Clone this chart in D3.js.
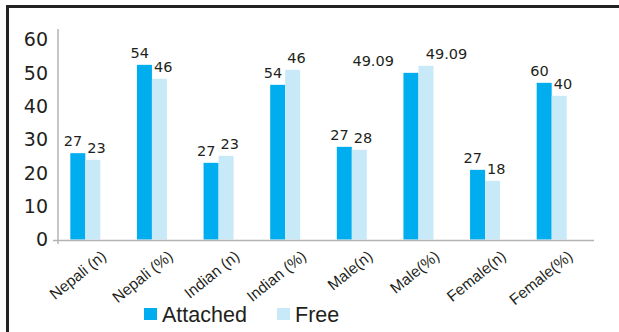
<html>
<head>
<style>
body { margin: 0; background: #fff; }
</style>
</head>
<body>
<svg id="chart"></svg>
<script src="https://cdnjs.cloudflare.com/ajax/libs/d3/7.8.5/d3.min.js"></script>
<script type="text/javascript">

var categories = ["Nepali (n)", "Nepali (%)", "Indian (n)", "Indian (%)", "Male(n)", "Male(%)", "Female(n)", "Female(%)"]
var series = ["Attached", "Free"]
var attached = [25.9, 52.4, 23.0, 46.4, 27.8, 50.0, 20.9, 47.0]
var free = [23.9, 48.2, 25.1, 50.9, 26.9, 52.1, 17.6, 43.1]
var attachedLabels = ["27", "54", "27", "54", "27", "49.09", "27", "60"]
var freeLabels = ["23", "46", "23", "46", "28", "49.09", "18", "40"]
var yTicks = [0, 10, 20, 30, 40, 50, 60]
var colors = ["#00aeef", "#c7e9f8"]

var W = 619, H = 332
var ink = "#231f20"
var numFont = "DejaVu Sans"
var wordFont = "Liberation Sans"

var svg = d3.select("#chart")
  .attr("width", W)
  .attr("height", H)

// frame (left + top only)
svg.append("line").attr("x1", 7.5).attr("x2", 7.5).attr("y1", 5).attr("y2", H)
  .attr("stroke", "#222").attr("stroke-width", 3)
svg.append("line").attr("x1", 6).attr("x2", W).attr("y1", 6.5).attr("y2", 6.5)
  .attr("stroke", "#222").attr("stroke-width", 3)

var y = d3.scaleLinear().domain([0, 60]).range([239.5, 39.5])
var x = d3.scaleBand().domain(categories).range([52, 585])
var xs = d3.scaleBand().domain(series).range([0, 30])

// axes
svg.append("line").attr("x1", 58).attr("x2", 58).attr("y1", 29).attr("y2", 244)
  .attr("stroke", "#b3b3b3").attr("stroke-width", 1.5)

svg.selectAll(".ytick")
  .data(yTicks)
  .enter().append("text")
  .attr("class", "ytick")
  .attr("x", 48)
  .attr("y", function(d) { return y(d); })
  .attr("dy", "0.36em")
  .attr("text-anchor", "end")
  .attr("font-family", numFont)
  .attr("font-size", 19)
  .attr("fill", ink)
  .text(function(d) { return d; })

var rows = categories.map(function(c, i) {
  return [
    { cat: c, s: series[0], v: attached[i], label: attachedLabels[i] },
    { cat: c, s: series[1], v: free[i], label: freeLabels[i] }
  ];
})

var barX = function(d) { return x(d.cat) + x.bandwidth() / 2 - 15 + xs(d.s); }

var groups = svg.selectAll(".grp")
  .data(rows)
  .enter().append("g")
  .attr("class", "grp")

groups.selectAll("rect")
  .data(function(d) { return d; })
  .enter().append("rect")
  .attr("x", barX)
  .attr("y", function(d) { return y(d.v); })
  .attr("width", xs.bandwidth())
  .attr("height", function(d) { return y(0) - y(d.v); })
  .attr("fill", function(d, i) { return colors[i]; })

svg.append("line").attr("x1", 53).attr("x2", 594).attr("y1", 240.5).attr("y2", 240.5)
  .attr("stroke", "#b3b3b3").attr("stroke-width", 1.5)

// value labels
groups.selectAll(".val")
  .data(function(d) { return d; })
  .enter().append("text")
  .attr("class", "val")
  .attr("y", function(d) { return y(d.v) - 7; })
  .attr("font-family", numFont)
  .attr("font-size", 14.5)
  .attr("fill", ink)
  .text(function(d) { return d.label; })
  .each(function(d, i) {
    var t = d3.select(this)
    var extra = Math.max(0, this.getComputedTextLength() - 20)
    if (i === 0) {
      t.attr("text-anchor", "end").attr("x", barX(d) + 12 - extra)
    } else {
      t.attr("text-anchor", "start").attr("x", barX(d) + 2 + extra * 0.25)
    }
  })

// category labels
svg.selectAll(".xlab")
  .data(categories)
  .enter().append("text")
  .attr("class", "xlab")
  .attr("text-anchor", "end")
  .attr("font-family", wordFont)
  .attr("font-size", 15.5)
  .attr("fill", ink)
  .attr("transform", function(d) {
    return "translate(" + (x(d) + x.bandwidth() / 2 + 22) + ",258) rotate(-39)";
  })
  .text(function(d) { return d; })

// legend
var legend = svg.selectAll(".leg")
  .data(series)
  .enter().append("g")
  .attr("class", "leg")
  .attr("transform", function(d, i) { return "translate(" + [144, 277][i] + ",308)"; })

legend.append("rect")
  .attr("width", 13)
  .attr("height", 12)
  .attr("fill", function(d, i) { return colors[i]; })

legend.append("text")
  .attr("x", 18)
  .attr("y", 14)
  .attr("font-family", wordFont)
  .attr("font-size", 21.5)
  .attr("fill", ink)
  .text(function(d) { return d; })

</script>
</body>
</html>
